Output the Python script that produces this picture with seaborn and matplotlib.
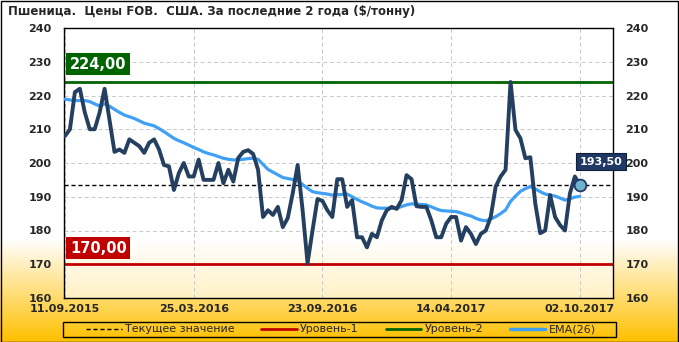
import numpy as np
import pandas as pd
import matplotlib
matplotlib.use("Agg")
import matplotlib.pyplot as plt
import seaborn as sns
from matplotlib.lines import Line2D
from matplotlib.patches import Rectangle
from matplotlib.colors import to_rgb

# ---------------- data ----------------
price = [208, 210, 221, 222, 215, 210, 210, 215, 222, 212.7,
         203.3, 204, 203, 207, 206, 205, 203, 206, 207, 204,
         199.4, 199, 192, 197, 200, 196, 196, 201, 195, 195,
         195, 200, 194, 198, 194.5, 201.5, 203.3, 203.8, 202.7, 198,
         184, 186, 184.6, 187, 181, 183.7, 191, 199.4, 186, 170.3,
         180, 189.3, 188.8, 186, 184, 195.2, 195.2, 187, 189, 178,
         178, 175, 179, 178, 183, 186, 187, 186.4, 189, 196.4,
         195.2, 187.2, 187, 187, 183, 178, 178, 182, 184, 184,
         177, 181, 179, 176, 179, 180, 184, 193, 196, 198,
         224, 209.8, 207.3, 201.4, 201.7, 188, 179.2, 180, 190.5, 184,
         181.6, 180, 191, 196, 193.5]
ema26 = [218.9, 218.7, 218.5, 218.5, 218.5, 218.2, 217.5, 216.9, 217.5, 216.8,
         215.9, 215.0, 214.2, 213.7, 213.2, 212.5, 211.8, 211.4, 211.0, 210.2,
         209.3, 208.3, 207.3, 206.6, 206.0, 205.3, 204.6, 204.0, 203.3, 202.8,
         202.4, 201.9, 201.4, 201.1, 200.9, 201.0, 201.1, 201.3, 201.4, 201.1,
         199.6, 198.1, 197.3, 196.5, 195.7, 195.4, 195.1, 194.8, 193.6, 192.5,
         191.5, 191.2, 191.0, 190.8, 190.5, 190.6, 190.7, 190.8, 190.0, 189.2,
         188.5, 187.9, 187.2, 186.7, 186.6, 186.6, 186.6, 186.6, 187.1, 187.6,
         187.9, 187.8, 187.7, 187.6, 187.0, 186.4, 185.9, 185.8, 185.7, 185.6,
         185.2, 184.7, 184.3, 183.6, 183.1, 182.9, 183.4, 184.1, 185.0, 186.1,
         188.6, 190.2, 191.6, 192.4, 193.0, 192.3, 191.5, 190.8, 190.5, 190.2,
         189.6, 189.0, 189.4, 189.9, 190.1]
date_labels = ["11.09.2015", "25.03.2016", "23.09.2016", "14.04.2017", "02.10.2017"]
label_step = 26
level1 = 170.0
level2 = 224.0
current = price[-1]

title = "Пшеница.  Цены FOB.  США. За последние 2 года ($/тонну)"
legend_labels = ["Текущее значение", "Уровень-1", "Уровень-2", "EMA(26)"]

df = pd.DataFrame({"idx": np.arange(len(price)), "price": price, "ema": ema26})

# ---------------- style ----------------
sns.set_style("white")
plt.rcParams["font.family"] = ["DejaVu Sans"]

W, H = 679, 342
fig = plt.figure(figsize=(W / 100, H / 100), dpi=100)

# background gradient (white -> gold at bottom)
bg = fig.add_axes([0, 0, 1, 1], zorder=-10)
bg.set_axis_off()
n = 342
t = np.linspace(0, 1, n)  # 0 top -> 1 bottom
start = 0.70
f = np.clip((t - start) / (1 - start), 0, 1)
white = np.array([1, 1, 1])
gold = np.array(to_rgb("#FFC000"))
grad = white[None, :] * (1 - f[:, None]) + gold[None, :] * f[:, None]
img = np.repeat(grad[:, None, :], 4, axis=1)
bg.imshow(img, aspect="auto", extent=[0, 1, 0, 1], origin="upper")
bg.set_xlim(0, 1)
bg.set_ylim(0, 1)

# figure border
fig.patches.append(Rectangle((0.5 / W, 0.5 / H), 1 - 1.5 / W, 1 - 1.5 / H,
                             transform=fig.transFigure, fill=False,
                             edgecolor="black", linewidth=1.0, zorder=5))

left, right, top, bottom = 64, 613, 28, 298
ax = fig.add_axes([left / W, 1 - bottom / H, (right - left) / W, (bottom - top) / H])
ax.set_facecolor((1, 1, 1, 0.6))

# grid
ax.set_ylim(160, 240)
ax.set_xlim(-0.2, 110.7)
ax.set_yticks(np.arange(160, 241, 10))
tick_pos = [i * label_step for i in range(len(date_labels))]
ax.set_xticks(tick_pos)
ax.set_xticklabels(date_labels)
ax.grid(True, color="#C8C8C8", linestyle=(0, (4, 3)), linewidth=0.7)
ax.set_axisbelow(True)

# lines
ax.axhline(level2, color="#006400", lw=2.0, zorder=2)
ax.axhline(level1, color="#C00000", lw=2.0, zorder=2)
ax.axhline(current, color="black", lw=1.0, linestyle=(0, (3, 2)), zorder=2)

sns.lineplot(data=df, x="idx", y="ema", ax=ax, color="#3FA0F5", lw=2.3,
             zorder=3, legend=False)
sns.lineplot(data=df, x="idx", y="price", ax=ax, color="#243F60", lw=2.8,
             zorder=4, legend=False)
ax.plot([df["idx"].iloc[-1]], [current], marker="o", ms=8.5,
        markerfacecolor="#6FB3CF", markeredgecolor="#1F3864", markeredgewidth=1.3,
        zorder=6, linestyle="none")

for s in ax.spines.values():
    s.set_visible(True)
    s.set_color("black")
    s.set_linewidth(1.0)

ax.set_xlabel("")
ax.set_ylabel("")
ax.tick_params(axis="y", which="both", length=0, pad=9, labelleft=True,
               labelright=True, labelsize=8)
ax.tick_params(axis="x", length=0, pad=4, labelsize=8)
for lab in ax.get_yticklabels() + ax.get_xticklabels():
    lab.set_fontweight("bold")

# level value boxes
def fmt(v):
    return f"{v:.2f}".replace(".", ",")

ax.text(1.0, 229.3, fmt(level2), color="white", fontsize=10.5, fontweight="bold",
        ha="left", va="center", zorder=7,
        bbox=dict(boxstyle="square,pad=0.25", facecolor="#006400", edgecolor="none"))
ax.text(1.0, 174.8, fmt(level1), color="white", fontsize=10.5, fontweight="bold",
        ha="left", va="center", zorder=7,
        bbox=dict(boxstyle="square,pad=0.25", facecolor="#C00000", edgecolor="none"))
ax.text(108.3, 200.4, fmt(current), color="white", fontsize=8, fontweight="bold",
        ha="center", va="center", zorder=7, clip_on=False,
        bbox=dict(boxstyle="square,pad=0.3", facecolor="#1F3864", edgecolor="#0F1F3A",
                  linewidth=0.8))

# title
fig.text(8 / W, 1 - 12 / H, title, fontsize=8.5, fontweight="bold",
         ha="left", va="center")

# legend
handles = [
    Line2D([], [], color="black", lw=1.0, linestyle=(0, (3, 2))),
    Line2D([], [], color="#C00000", lw=2.0),
    Line2D([], [], color="#006400", lw=2.0),
    Line2D([], [], color="#3FA0F5", lw=2.5),
]
fig.legend(handles, legend_labels, loc="center", ncol=4, frameon=False,
           bbox_to_anchor=(341 / W, 1 - 329.5 / H), fontsize=8,
           handlelength=3.2, handletextpad=0.3, columnspacing=2.4,
           borderpad=0.1)
fig.patches.append(Rectangle((63 / W, 1 - 337 / H), 553 / W, 15 / H,
                             transform=fig.transFigure, fill=False,
                             edgecolor="black", linewidth=1.0, zorder=5))

fig.savefig("out.png", dpi=100)
